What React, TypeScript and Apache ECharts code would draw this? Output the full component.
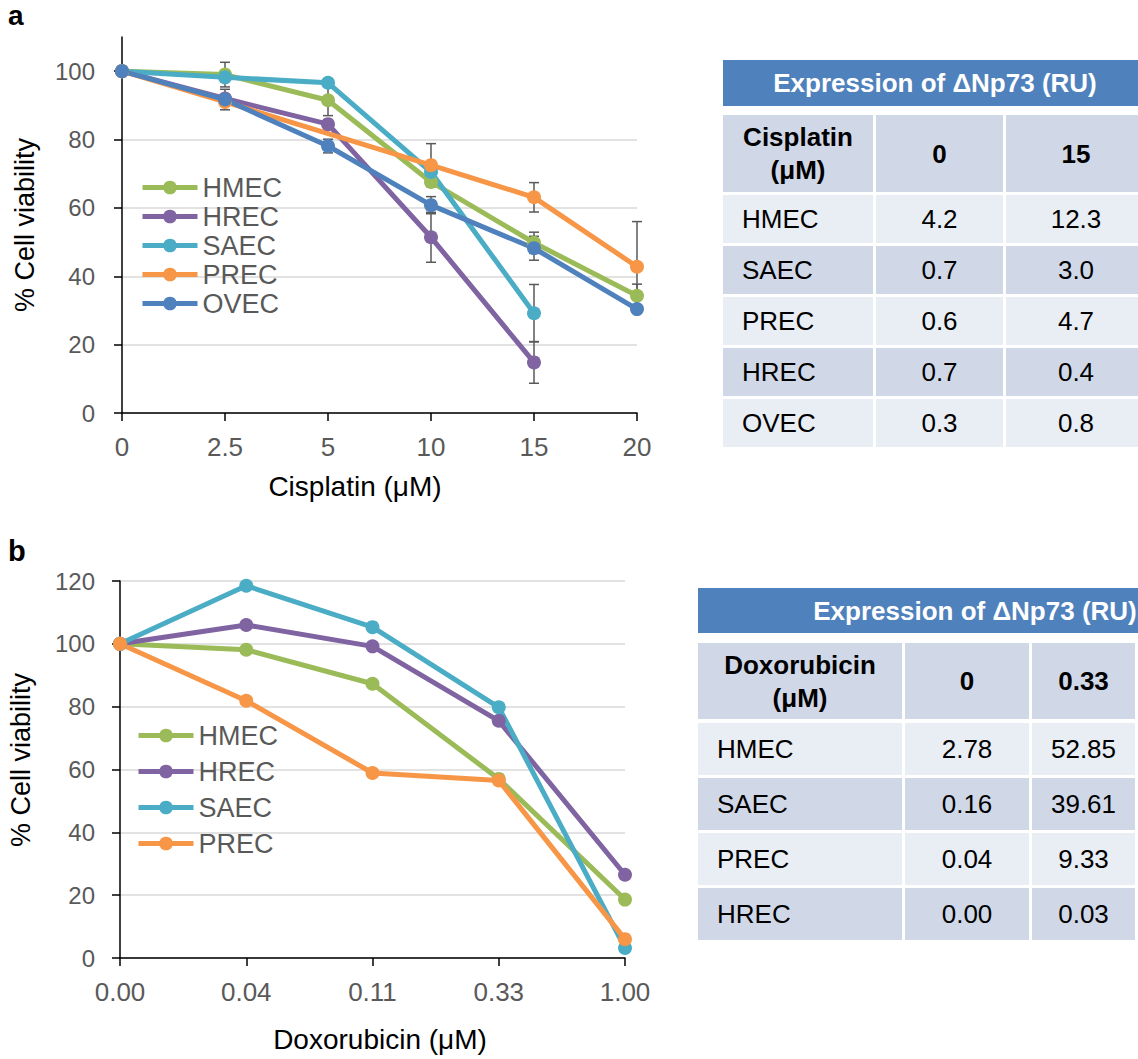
import React, { useEffect, useRef } from 'react';
import * as echarts from 'echarts';

// ---------- Data ----------
const cisplatinDoses = ['0', '2.5', '5', '10', '15', '20'];
const seriesNamesA = ['HMEC', 'HREC', 'SAEC', 'PREC', 'OVEC'];
const hmecA = [100, 99, 91.5, 67.6, 49.8, 34.3];
const hrecA = [100, 92, 84.5, 51.4, 14.8, null];
const saecA = [100, 98.2, 96.6, 70.5, 29.2, null];
const precA = [100, 91, null, 72.5, 63.1, 42.8];
const ovecA = [100, 91.7, 78.1, 60.8, 48.2, 30.4];

const hmecAErr = [null, 3.6, 4.5, null, 3.1, 3.4];
const hrecAErr = [null, null, null, 7.3, 6.1, null];
const saecAErr = [null, null, null, null, 8.4, null];
const precAErr = [null, null, null, 6.3, 4.3, 13.2];
const ovecAErr = [null, 3, 2, 2.5, 3.5, null];

const doxDoses = ['0.00', '0.04', '0.11', '0.33', '1.00'];
const seriesNamesB = ['HMEC', 'HREC', 'SAEC', 'PREC'];
const hmecB = [100, 98.1, 87.3, 57, 18.6];
const hrecB = [100, 106, 99.2, 75.5, 26.5];
const saecB = [100, 118.5, 105.3, 79.8, 3.2];
const precB = [100, 81.9, 58.9, 56.5, 6.0];

const yTicksA = [0, 20, 40, 60, 80, 100];

const tableTitle = 'Expression of \u0394Np73 (RU)';
const tableAHeader = ['Cisplatin\n(\u03BCM)', '0', '15'];
const tableARowNames = ['HMEC', 'SAEC', 'PREC', 'HREC', 'OVEC'];
const tableAAt0 = ['4.2', '0.7', '0.6', '0.7', '0.3'];
const tableAAt15 = ['12.3', '3.0', '4.7', '0.4', '0.8'];

const tableBHeader = ['Doxorubicin\n(\u03BCM)', '0', '0.33'];
const tableBRowNames = ['HMEC', 'SAEC', 'PREC', 'HREC'];
const tableBAt0 = ['2.78', '0.16', '0.04', '0.00'];
const tableBAt033 = ['52.85', '39.61', '9.33', '0.03'];

// ---------- Styles ----------
const FONT = "'Liberation Sans', Arial, Helvetica, sans-serif";
const COLORS: Record<string, string> = {
  HMEC: '#9bbb59',
  HREC: '#8064a2',
  SAEC: '#4bacc6',
  PREC: '#f79646',
  OVEC: '#4f81bd',
};
const GRAY = '#595959';

function lineSeries(name: string, data: (number | null)[], idx: number) {
  return {
    name,
    type: 'line',
    xAxisIndex: idx,
    yAxisIndex: idx,
    data,
    connectNulls: true,
    symbol: 'circle',
    symbolSize: 14,
    showSymbol: true,
    z: 3,
    lineStyle: { width: 5, color: COLORS[name] },
    itemStyle: { color: COLORS[name] },
    emphasis: { disabled: true },
  };
}

function errorData(values: (number | null)[], errs: (number | null)[]) {
  const out: number[][] = [];
  values.forEach((v, i) => {
    const e = errs[i];
    if (v != null && e != null) out.push([i, v - e, v + e]);
  });
  return out;
}

function buildTable(
  x0: number,
  colEdges: number[][],
  headerTop: number,
  headerH: number,
  headerRight: number,
  titleCenterX: number,
  hdrRowTop: number,
  hdrRowH: number,
  rowTop0: number,
  rowH: number,
  rowStep: number,
  header: string[],
  names: string[],
  c1: string[],
  c2: string[]
) {
  const els: any[] = [];
  els.push({
    type: 'rect',
    shape: { x: x0, y: headerTop, width: headerRight - x0, height: headerH },
    style: { fill: '#4f81bd' },
  });
  els.push({
    type: 'text',
    x: titleCenterX,
    y: headerTop + headerH / 2,
    style: {
      text: tableTitle,
      fill: '#ffffff',
      fontSize: 26,
      fontWeight: 'bold',
      fontFamily: FONT,
      align: 'center',
      verticalAlign: 'middle',
      textAlign: 'center',
      textVerticalAlign: 'middle',
    },
  });
  colEdges.forEach((ce, ci) => {
    els.push({
      type: 'rect',
      shape: { x: ce[0], y: hdrRowTop, width: ce[1] - ce[0], height: hdrRowH },
      style: { fill: '#d0d8e8' },
    });
    els.push({
      type: 'text',
      x: (ce[0] + ce[1]) / 2,
      y: hdrRowTop + hdrRowH / 2,
      style: {
        text: header[ci],
        fill: '#000',
        fontSize: 26,
        fontWeight: 'bold',
        fontFamily: FONT,
        lineHeight: 33,
        align: 'center',
        verticalAlign: 'middle',
        textAlign: 'center',
        textVerticalAlign: 'middle',
      },
    });
  });
  names.forEach((nm, ri) => {
    const top = rowTop0 + ri * rowStep;
    const fill = ri % 2 === 0 ? '#e9edf4' : '#d0d8e8';
    const cells = [nm, c1[ri], c2[ri]];
    colEdges.forEach((ce, ci) => {
      els.push({
        type: 'rect',
        shape: { x: ce[0], y: top, width: ce[1] - ce[0], height: rowH },
        style: { fill },
      });
      els.push({
        type: 'text',
        x: ci === 0 ? ce[0] + 19 : (ce[0] + ce[1]) / 2,
        y: top + rowH / 2,
        style: {
          text: cells[ci],
          fill: '#000',
          fontSize: 26,
          fontFamily: FONT,
          align: ci === 0 ? 'left' : 'center',
          verticalAlign: 'middle',
          textAlign: ci === 0 ? 'left' : 'center',
          textVerticalAlign: 'middle',
        },
      });
    });
  });
  return els;
}

function plainText(text: string, x: number, y: number, size: number, opts: any = {}) {
  return {
    type: 'text',
    x,
    y,
    rotation: opts.rotation || 0,
    style: {
      text,
      fill: opts.fill || '#000',
      fontSize: size,
      fontWeight: opts.bold ? 'bold' : 'normal',
      fontFamily: FONT,
      align: opts.align || 'center',
      verticalAlign: 'middle',
      textAlign: opts.align || 'center',
      textVerticalAlign: 'middle',
    },
  };
}

export default function App() {
  const ref = useRef<HTMLDivElement>(null);

  useEffect(() => {
    if (!ref.current) return;
    const chart = echarts.init(ref.current, undefined, { renderer: 'svg' });

    const errA = [
      ...errorData(hmecA, hmecAErr),
      ...errorData(hrecA, hrecAErr),
      ...errorData(saecA, saecAErr),
      ...errorData(precA, precAErr),
      ...errorData(ovecA, ovecAErr),
    ];

    const xAxisCommon = (data: string[], gridIndex: number) => ({
      type: 'category',
      gridIndex,
      data,
      boundaryGap: false,
      axisLine: { show: true, lineStyle: { color: '#000', width: 1.5 } },
      axisTick: { show: true, length: 8, lineStyle: { color: '#000', width: 1.5 } },
      axisLabel: { fontSize: 26, color: GRAY, margin: 21, fontFamily: FONT, interval: 0 },
      splitLine: { show: false },
    });

    const legendCommon = {
      orient: 'vertical',
      itemWidth: 55,
      itemHeight: 17,
      selectedMode: false,
      lineStyle: { width: 5 },
      textStyle: { fontSize: 27, color: GRAY, fontFamily: FONT, lineHeight: 27 },
    };

    const option: any = {
      animation: false,
      backgroundColor: '#ffffff',
      grid: [
        { left: 122, top: 37, width: 515, height: 376 },
        { left: 120, top: 581, width: 505, height: 377 },
      ],
      xAxis: [xAxisCommon(cisplatinDoses, 0), xAxisCommon(doxDoses, 1)],
      yAxis: [
        {
          type: 'value',
          gridIndex: 0,
          min: 0,
          max: 110,
          interval: 20,
          axisLine: { show: true, lineStyle: { color: '#000', width: 1.5 } },
          axisTick: {
            show: true,
            length: 8,
            lineStyle: { color: '#000', width: 1.5 },
            customValues: yTicksA,
          },
          axisLabel: {
            fontSize: 24,
            color: GRAY,
            margin: 27,
            fontFamily: FONT,
            customValues: yTicksA,
          },
          splitLine: { show: true, showMaxLine: false, lineStyle: { color: '#d9d9d9', width: 1.5 } },
        },
        {
          type: 'value',
          gridIndex: 1,
          min: 0,
          max: 120,
          interval: 20,
          axisLine: { show: true, lineStyle: { color: '#000', width: 1.5 } },
          axisTick: { show: true, length: 8, lineStyle: { color: '#000', width: 1.5 } },
          axisLabel: { fontSize: 24, color: GRAY, margin: 25, fontFamily: FONT },
          splitLine: { show: true, lineStyle: { color: '#d9d9d9', width: 1.5 } },
        },
      ],
      legend: [
        { ...legendCommon, data: seriesNamesA, left: 135, top: 169, itemGap: 2 },
        { ...legendCommon, data: seriesNamesB, left: 131, top: 717, itemGap: 9 },
      ],
      series: [
        {
          type: 'custom',
          name: 'errA',
          xAxisIndex: 0,
          yAxisIndex: 0,
          z: 2,
          data: errA,
          encode: { x: 0, y: [1, 2] },
          renderItem: (params: any, api: any) => {
            const x = api.value(0);
            const p1 = api.coord([x, api.value(1)]);
            const p2 = api.coord([x, api.value(2)]);
            const w = 5;
            const st = { stroke: GRAY, lineWidth: 1.5 };
            return {
              type: 'group',
              children: [
                { type: 'line', shape: { x1: p1[0], y1: p1[1], x2: p2[0], y2: p2[1] }, style: st },
                { type: 'line', shape: { x1: p1[0] - w, y1: p1[1], x2: p1[0] + w, y2: p1[1] }, style: st },
                { type: 'line', shape: { x1: p2[0] - w, y1: p2[1], x2: p2[0] + w, y2: p2[1] }, style: st },
              ],
            };
          },
        },
        lineSeries('HMEC', hmecA, 0),
        lineSeries('HREC', hrecA, 0),
        lineSeries('SAEC', saecA, 0),
        lineSeries('PREC', precA, 0),
        lineSeries('OVEC', ovecA, 0),
        lineSeries('HMEC', hmecB, 1),
        lineSeries('HREC', hrecB, 1),
        lineSeries('SAEC', saecB, 1),
        lineSeries('PREC', precB, 1),
      ],
      graphic: [
        plainText('a', 8, 15, 28, { bold: true, align: 'left' }),
        plainText('b', 8, 551, 29, { bold: true, align: 'left' }),
        plainText('% Cell viability', 25, 225, 27, { rotation: Math.PI / 2 }),
        plainText('Cisplatin (\u03BCM)', 355, 486, 28),
        plainText('% Cell viability', 21, 760, 27, { rotation: Math.PI / 2 }),
        plainText('Doxorubicin (\u03BCM)', 380, 1039, 28),
        ...buildTable(
          723,
          [[723, 873], [876, 1003], [1006, 1146]],
          60, 46, 1150, 935,
          115, 77,
          195, 48, 51,
          tableAHeader, tableARowNames, tableAAt0, tableAAt15
        ),
        ...buildTable(
          698,
          [[698, 902], [905, 1029], [1032, 1135]],
          588, 45, 1260, 975,
          643, 76,
          723, 52, 55,
          tableBHeader, tableBRowNames, tableBAt0, tableBAt033
        ),
      ],
    };

    chart.setOption(option);
    return () => chart.dispose();
  }, []);

  return (
    <div
      ref={ref}
      style={{ position: 'fixed', left: 0, top: 0, width: 1138, height: 1059, background: '#fff' }}
    />
  );
}
